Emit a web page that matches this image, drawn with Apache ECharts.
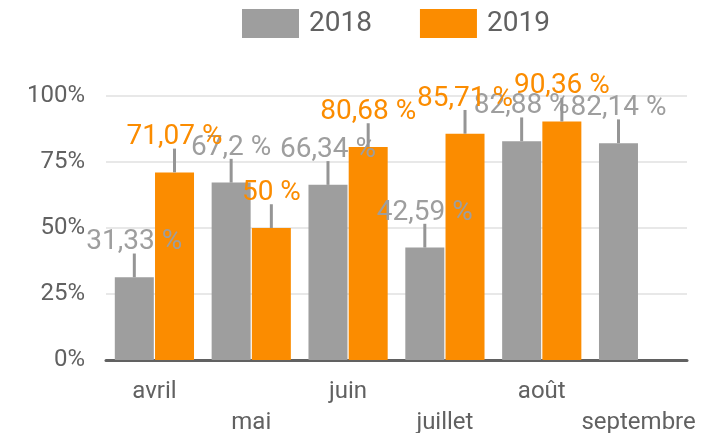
<!DOCTYPE html>
<html>
<head>
<meta charset="utf-8">
<script src="https://cdn.jsdelivr.net/npm/echarts@6/dist/echarts.min.js"></script>
<style>
  html, body { margin: 0; padding: 0; background: #fff; }
  #chart { width: 716px; height: 433px; }
</style>
</head>
<body>
<div id="chart"></div>
<script>
var months = ['avril', 'mai', 'juin', 'juillet', 'août', 'septembre'];
var seriesNames = ['2018', '2019'];
var values2018 = [31.33, 67.2, 66.34, 42.59, 82.88, 82.14];
var values2019 = [71.07, 50, 80.68, 85.71, 90.36, null];
// hauteur des barres d'erreur (en points de %)
var err2018 = [9, 9, 9, 9, 9, 9];
var err2019 = [9, 9, 9, 9, 9, null];
var yTicks = [0, 25, 50, 75, 100];

var grey = '#9e9e9e';
var orange = '#fb8c00';
var textColor = '#616161';
var barW = 39;
var gapPx = 1.2;

function fmtPct(v) {
  return String(v).replace('.', ',') + ' %';
}

function errData(vals, errs) {
  var out = [];
  for (var i = 0; i < vals.length; i++) {
    if (vals[i] != null) out.push([i, vals[i], errs[i]]);
  }
  return out;
}

function errRenderer(shift) {
  return function (params, api) {
    var base = api.coord([api.value(0), api.value(1)]);
    var top = api.coord([api.value(0), api.value(1) + api.value(2)]);
    var x = base[0] + shift;
    return {
      type: 'line',
      shape: { x1: x, y1: base[1], x2: x, y2: top[1] },
      style: { stroke: '#959595', lineWidth: 3 }
    };
  };
}

var labelOpt = function (color) {
  return {
    show: true,
    position: 'top',
    distance: 21,
    color: color,
    fontSize: 28,
    fontFamily: 'Roboto',
    formatter: function (p) { return fmtPct(p.value); }
  };
};

var chart = echarts.init(document.getElementById('chart'));
chart.setOption({
  animation: false,
  textStyle: { fontFamily: 'Roboto' },
  legend: {
    data: seriesNames,
    left: 237,
    top: 4,
    itemWidth: 57,
    itemHeight: 29,
    itemGap: 48,
    icon: 'rect',
    textStyle: { color: textColor, fontSize: 28, fontFamily: 'Roboto', padding: [0, 0, 0, 5] }
  },
  grid: { left: 106, right: 29, top: 96, bottom: 73, containLabel: false, outerBoundsMode: 'none' },
  xAxis: {
    type: 'category',
    data: months,
    axisTick: { show: false },
    axisLine: { lineStyle: { color: textColor, width: 3 } },
    axisLabel: {
      interval: 0,
      color: textColor,
      fontSize: 24,
      lineHeight: 31,
      margin: 16,
      formatter: function (v, i) { return i % 2 ? '\n' + v : v; }
    }
  },
  yAxis: {
    type: 'value',
    min: yTicks[0],
    max: yTicks[yTicks.length - 1],
    interval: 25,
    axisLine: { show: false },
    axisTick: { show: false },
    axisLabel: { color: textColor, fontSize: 24, margin: 21, formatter: '{value}%' },
    splitLine: { lineStyle: { color: '#e8e8e8', width: 2 } }
  },
  series: [
    {
      name: seriesNames[0],
      type: 'bar',
      data: values2018,
      barWidth: barW,
      barGap: (gapPx / barW * 100).toFixed(1) + '%',
      itemStyle: { color: grey },
      label: labelOpt(grey),
      z: 2
    },
    {
      name: seriesNames[1],
      type: 'bar',
      data: values2019,
      barWidth: barW,
      itemStyle: { color: orange },
      label: labelOpt(orange),
      z: 2
    },
    {
      type: 'custom',
      data: errData(values2018, err2018),
      renderItem: errRenderer(-(barW + gapPx) / 2),
      z: 3,
      silent: true
    },
    {
      type: 'custom',
      data: errData(values2019, err2019),
      renderItem: errRenderer((barW + gapPx) / 2),
      z: 3,
      silent: true
    }
  ]
});
</script>
</body>
</html>
